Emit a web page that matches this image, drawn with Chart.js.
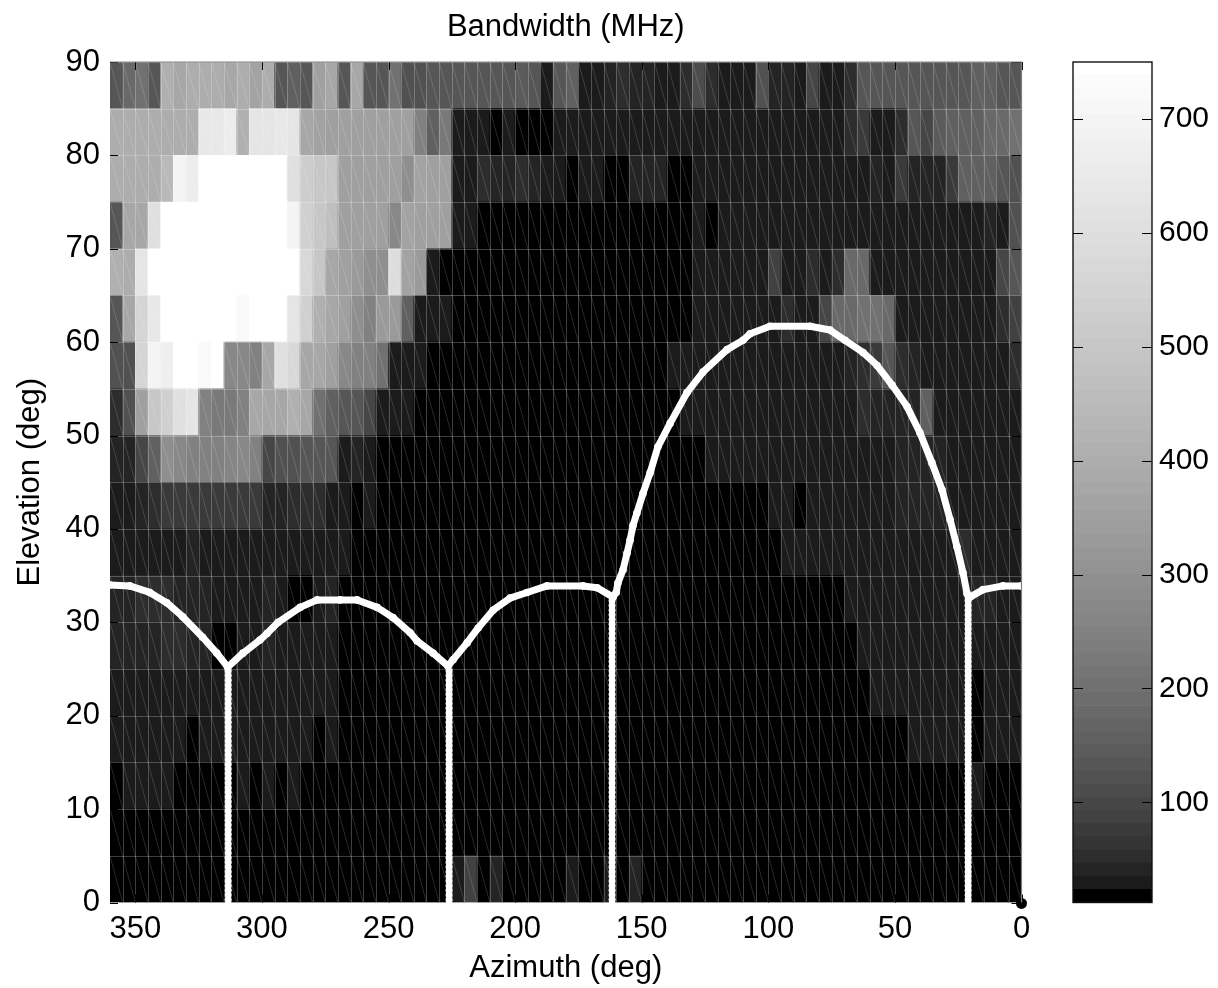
<!DOCTYPE html>
<html><head><meta charset="utf-8">
<style>
html,body{margin:0;padding:0;background:#fff;width:1218px;height:988px;overflow:hidden}
canvas{position:absolute;top:0;display:block}
#main{left:0}#bar{left:1060px}
</style>
<script src="https://cdn.jsdelivr.net/npm/chart.js@4"></script>
</head><body>
<canvas id="main" width="1060" height="988"></canvas>
<canvas id="bar" width="158" height="988"></canvas>
<script>
const titleText='Bandwidth (MHz)', xTitle='Azimuth (deg)', yTitle='Elevation (deg)';
const azimuthTicks=[350,300,250,200,150,100,50,0];
const elevationTicks=[0,10,20,30,40,50,60,70,80,90];
const colorbarTicks=[100,200,300,400,500,600,700];
const colorMin=12, colorMax=750, colorLevels=64;
const azimuthBins=[357.5,352.5,347.5,342.5,337.5,332.5,327.5,322.5,317.5,312.5,307.5,302.5,297.5,292.5,287.5,282.5,277.5,272.5,267.5,262.5,257.5,252.5,247.5,242.5,237.5,232.5,227.5,222.5,217.5,212.5,207.5,202.5,197.5,192.5,187.5,182.5,177.5,172.5,167.5,162.5,157.5,152.5,147.5,142.5,137.5,132.5,127.5,122.5,117.5,112.5,107.5,102.5,97.5,92.5,87.5,82.5,77.5,72.5,67.5,62.5,57.5,52.5,47.5,42.5,37.5,32.5,27.5,22.5,17.5,12.5,7.5,2.5];
const elevationEdges=[0,5,10,15,20,25,30,35,40,45,50,55,60,65,70,75,80,85,90];

const el85=[137,178,200,137,410,380,395,395,395,380,395,366,395,137,157,137,352,380,137,380,137,137,200,118,118,137,137,137,137, 137,137,137,147,137,30,137,157, 33,33,36,48,36,44,33,33,48,110,52,30,30,30, 118,44,44,30,102,30,30,52,137,137,137,137,137,137,137,137,137,157,157,137,137];
const el80=[395,395,395,395,395,395,395, 643,643,661, 410, 625,625,643,625, 380,366,352,352,352,352,352,352,352, 246,157,222,30,30, 30,12,30,12,12,12, 30,30,30,30,30,30,30,30,30,30,30,30,30,30,30,30, 30,30,30,30,30,30,30, 48,71,30,30,48,137,102,147,157,157,157,178,178,200];
const el75=[395,395,395,395,440,698,661, 750,750,750,750,750,750,750, 607,520,504,504, 352,352,352,352,352, 297,366,352,352,30,30, 48,44,44,48,44,33,33,12,33,33,12,12,44,44,44,12,12, 33,33,33,33,33, 30,30,30,30,30,30,30,30,30, 44,30,71,44,44,44,71,157,157,157,137,118];
const el70=[137,380,380,607, 750,750,750,750,750,750,750,750,750,750, 698,537,504,471, 352,352,352,352,271,366,352,352,352,30,33, 12,12,12,12,12,12,12,12,12,12,12,12,12,12,12,12,12, 30,12,30,30,30, 30,30,30,30,30,30,30,30,30,30,30,30,30,30,30,30,30,30, 44,33,118];
const el65=[410,395,625, 750,750,750,750,750,750,750,750,750,750,750,750, 571,504,380,352,324,297,297,589,366,324,30,12,12,12, 12,12,12,12,12,12,12,12,12,12,12,12,12,12,12,12,12, 30,30,30,30,30, 30,86,30,30,58,30,58,178,178, 30,30,30,30,30,30,30,30,30,30, 102,137];
const el60=[137,380,554,643, 750,750,750,750,750,750, 720, 750,750,750, 625,537,410,380,352,297,246,324,324,157,30,30,30,12,12, 12,12,12,12,12,12,12,12,12,12,12,12,12,12,12,12,12, 30,30,30,30,30, 30,30,58,30,30,102,178,178,200,200,178, 30,30,30,30,30,30,30,30, 58,86];
const el55=[118,118,554,698,680,750,750,720,750,271,271,246,380,607,571,380,380,352,271,246,246,200,30,30,30, 12,12,12,12,12,12,12,12,12,12,12,12,12,12,12,12,12,12,12, 30,30,30,30,30,30,30, 30,30,30,30,30,30,30, 44,58,71,137,58,44,30, 30,30,30,30,30,30, 58];
const el50=[58,118,352,504,537,607,625,246,222,222,246,380,380,380,410,380,200,157,137,137,102,30,30,30, 12,12,12,12,12,12,12,12,12,12,12,12,12,12,12,12,12,12,12,12,12, 30,30,30,30,30,30, 30,30,30,30,30,30,30,30, 58,44,44,44,44,157, 30,30,30,30,30,30,30];
const el45=[44,44,102,157,297,271,246,246,246,258,271,246,102,118,118,137,137,137,30,44,30, 12,12,12,12,12,12,12,12,12,12,12,12,12,12,12,12,12,12,12,12,12,12,12,12,12,12, 30,30,30,30, 30,30,30,30,30,30,30,30,30,30,30, 44,44,44,44, 30,30,30,30,30,30];
const el40=[30,30,44,58,71,71,71,71,71,71,71,71,44,44,58,58,58,30,30,12,30, 12,12,12,12,12,12,12,12,12,12,12,12,12,12,12,12,12,12,12,12,12,12,12,12,12,12,12,12,12,12, 12,30,30,12, 30,30,30,30,30,30,30, 44,44,44,44, 30,30,30,30,30,30];
const el35=[30,30,33,30,30,33,44, 30,30,30,30,30,30,30,30,30,30,30, 33, 12,12,12,12,12,12,12,12,12,12,12,12,12,12,12,12,12,12,12,12,12,12,12,12,12,12,12,12,12,12,12,12,12,12, 30,30,30,30,30,30,30,30,30,30,30,30,30,30, 48, 30,30,30,30];
const el30=[44,44,48,58,48,44,44,44,30,30,30,30,44,30,12,12,30,44, 12,12,12,12,12,12,12,12,12,12,12,12,12,12,12,12,12,12,12,12,12,12,12,12,12,12,12,12,12,12,12,12,12,12,12,12,12,12,12,12, 30,30,30,30,30,30,30,30,30,30, 44,44,30,30];
const el25=[44,44,44,44,48,48,44,44,12,12,30,30,44,30,30,30,30,30, 12,12,12,12,12,12,12,12,12,12,12,12,12,12,12,12,12,12,12,12,12,12,12,12,12,12,12,12,12,12,12,12,12,12,12,12,12,12,12,12,12, 30,30,30,30,30,30,30,30,30,30,30,30,30];
const el20=[30,30,30,30,30,30,30,30,30,30,30,30,30,30,30,30,30,30, 12,12,12,12,12,12,12,12,12,12,12,12,12,12,12,12,12,12,12,12,12,12,12,12,12,12,12,12,12,12,12,12,12,12,12,12,12,12,12,12,12,12, 30,30,30,30,30,30,30,30, 12, 30,30,30];
const el15=[30,30,30,30,30,30,12,30,30,30,30,30,30,30,30,30,12,30, 12,12,12,12,12,12,12,12,12,12,12,12,12,12,12,12,12,12,12,12,12,12,12,12,12,12,12,12,12,12,12,12,12,12,12,12,12,12,12,12,12,12,12,12,12, 30,30,30,30,30, 12, 30,30,30];
const el10=[12,33,33,33,33,12,12,12,12,12,30,12,33,12,33, 12,12,12,12,12,12,12,12,12,12,12,12,12,12,12,12,12,12,12,12,12,12,12,12,12,12,12,12,12,12,12,12,12,12,12,12,12,12,12,12,12,12,12,12,12,12,12,12,12,12,12,12,12, 33, 12,12,12];
const el5=[12,12,12,12,12,12,12,12,12,12,12,12,12,12,12,12,12,12,12,12,12,12,12,12,12,12,12,12,12,12,12,12,12,12,12,12,12,12,12,12,12,12,12,12,12,12,12,12,12,12,12,12,12,12,12,12,12,12,12,12,12,12,12,12,12,12,12,12,12,12,12,12];
const el0=[12,12,12,12,12,12,12,12,12,12,12,12,12,12,12,12,12,12,12,12,12,12,12,12,12,12,12, 30,90,12,36, 12,12,12,12,12, 33,12,12,33,12,36, 12,12,12,12,12,12,12,12,12,12,12,12,12,12,12,12,12,12,12,12,12,12,12,12,12,12,12,12,12,12];
const bandwidthRows=[el0,el5,el10,el15,el20,el25,el30,el35,el40,el45,el50,el55,el60,el65,el70,el75,el80,el85];

const horizonAz=[360,352.2,344.3,337.6,331.3,323.4,317.8,313.5,307.5,300.8,298,293.6,284.9,278.2,269.1,262.4,254.5,248.2,241.5,238.7,232.4,226.5,224.5,219,214.6,208.7,202,195.3,187.4,173.2,167.6,161.3,160.1,159.4,157.4,155.8,154.6,153.4,151.9,149.5,146.7,143.6,138.8,132.1,125.8,116.3,110,107.2,99.3,83.5,75.6,69.7,62.6,57,51.1,45.2,40.1,35.4,31.4,28.2,25.5,23.1,21.5,20.3,15.2,7.3,0];
const horizonEl=[34,33.9,33.2,32.1,30.6,28.4,26.7,25.2,26.7,28.1,28.8,30,31.6,32.4,32.4,32.4,31.6,30.5,28.9,28,26.7,25.3,26,27.8,29.4,31.3,32.6,33.2,33.9,33.9,33.7,32.7,33.2,34.2,35.6,37.4,38.8,40.4,41.7,43.8,46,48.8,51.3,54.6,56.8,59.2,60.2,60.9,61.7,61.7,61.3,60.2,58.9,57.5,55.4,53.1,50.3,47.1,44.2,41,38.1,35.3,33.1,32.7,33.5,33.9,33.9];
const verticalAz=[313.3,226.1,161.7,21.1];
const verticalTop=[25,25,32.5,33];
const beadEl=[-0.2,0.3,0.8,1.3,1.8,2.3,2.8,3.3,3.8,4.3,4.8,5.3,5.8,6.3,6.8,7.3,7.8,8.3,8.8,9.3,9.8,10.3,10.8,11.3,11.8,12.3,12.8,13.3,13.8,14.3,14.8,15.3,15.8,16.3,16.8,17.3,17.8,18.3,18.8,19.3,19.8,20.3,20.8,21.3,21.8,22.3,22.8,23.3,23.8,24.3,24.8,25.3,25.8,26.3,26.8,27.3,27.8,28.3,28.8,29.3,29.8,30.3,30.8,31.3,31.8,32.3,32.8];
const originAz=[0], originEl=[-0.1];

const FONT='"Liberation Sans", Arial, sans-serif';
function grey(v){
  const band=Math.min(colorLevels-1,Math.max(0,Math.floor((v-colorMin)/(colorMax-colorMin)*colorLevels)));
  if(band===0)return 'rgb(0,0,0)';
  if(band===colorLevels-1)return 'rgb(255,255,255)';
  const g=Math.round(255*Math.pow((band+0.5)/colorLevels,0.6));
  return `rgb(${g},${g},${g})`;
}

const lineSets=[];
lineSets.push({type:'scatter',data:originAz.map((a,i)=>({x:a,y:originEl[i]})),pointRadius:5.5,pointHoverRadius:5.5,backgroundColor:'#000',borderWidth:0,clip:false,showLine:false});
verticalAz.forEach((a,k)=>{
  lineSets.push({type:'scatter',data:beadEl.filter(e=>e<=verticalTop[k]).map(e=>({x:a,y:e})),pointRadius:3.5,backgroundColor:'#fff',borderWidth:0,clip:false,showLine:false});
});
lineSets.push({type:'scatter',data:horizonAz.map((a,i)=>({x:a,y:horizonEl[i]})),showLine:true,borderColor:'#fff',borderWidth:7,borderJoinStyle:'round',pointRadius:3.8,backgroundColor:'#fff',pointBorderWidth:0,tension:0,clip:false});
const meshIndex=lineSets.length-1;
const cellSets=bandwidthRows.map((row,r)=>({
  type:'bar',
  data:row.map((v,c)=>({x:azimuthBins[c],y:[elevationEdges[r],elevationEdges[r+1]]})),
  backgroundColor:row.map(grey),
  borderWidth:0,grouped:false,barPercentage:1,categoryPercentage:1
}));

const meshPlugin={
  id:'mesh',
  beforeDatasetDraw(chart,args){
    if(args.index!==meshIndex)return;
    const {ctx,chartArea:a,scales:{x,y}}=chart;
    ctx.save();
    ctx.beginPath();ctx.rect(a.left,a.top,a.right-a.left,a.bottom-a.top);ctx.clip();
    ctx.lineWidth=1;
    ctx.strokeStyle='rgba(255,255,255,0.24)';
    ctx.beginPath();
    elevationEdges.forEach(e=>{const p=Math.round(y.getPixelForValue(e))+.5;ctx.moveTo(a.left,p);ctx.lineTo(a.right,p);});
    azimuthBins.forEach(c=>{const p=Math.round(x.getPixelForValue(c-2.5))+.5;ctx.moveTo(p,a.top);ctx.lineTo(p,a.bottom);});
    ctx.stroke();
    ctx.strokeStyle='rgba(255,255,255,0.2)';
    ctx.lineWidth=.8;
    ctx.beginPath();
    for(let r=0;r<elevationEdges.length-1;r++){
      azimuthBins.forEach(c=>{
        ctx.moveTo(x.getPixelForValue(c+2.5),y.getPixelForValue(elevationEdges[r+1]));
        ctx.lineTo(x.getPixelForValue(c-2.5),y.getPixelForValue(elevationEdges[r]));
      });
    }
    ctx.stroke();
    ctx.restore();
  },
  afterDatasetsDraw(chart){
    const {ctx,chartArea:a,scales:{x,y}}=chart;
    ctx.save();
    ctx.strokeStyle='#000';ctx.lineWidth=1;
    ctx.beginPath();
    elevationTicks.forEach(e=>{const p=Math.round(y.getPixelForValue(e))+.5;ctx.moveTo(a.left,p);ctx.lineTo(a.left+8,p);ctx.moveTo(a.right,p);ctx.lineTo(a.right-10,p);});
    azimuthTicks.forEach(c=>{const p=Math.round(x.getPixelForValue(c))+.5;ctx.moveTo(p,a.top);ctx.lineTo(p,a.top+8);ctx.moveTo(p,a.bottom);ctx.lineTo(p,a.bottom-8);});
    ctx.stroke();
    ctx.strokeStyle='#808080';ctx.lineWidth=1.2;
    ctx.beginPath();
    ctx.moveTo(a.left,a.top);ctx.lineTo(a.right,a.top);ctx.lineTo(a.right,a.bottom);
    ctx.stroke();
    ctx.restore();
  }
};

new Chart(document.getElementById('main'),{
  data:{datasets:[...lineSets,...cellSets]},
  plugins:[meshPlugin],
  options:{
    responsive:false,animation:false,devicePixelRatio:1,
    layout:{padding:{left:0,right:38.5,top:0,bottom:0}},
    plugins:{
      legend:{display:false},tooltip:{enabled:false},
      title:{display:true,text:titleText,fullSize:false,color:'#000',font:{family:FONT,size:31,weight:'normal',lineHeight:1.2},padding:{top:9,bottom:15.8}}
    },
    scales:{
      x:{type:'linear',reverse:true,min:0,max:360,offset:false,
        grid:{display:false,drawTicks:false},border:{display:false},
        afterBuildTicks(s){s.ticks=azimuthTicks.map(v=>({value:v}));},
        afterFit(s){s.height=85.5;},
        ticks:{color:'#000',maxRotation:0,autoSkip:false,padding:8,font:{family:FONT,size:31}},
        title:{display:true,text:xTitle,color:'#000',font:{family:FONT,size:31,lineHeight:1.2},padding:{top:0,bottom:1.4}}
      },
      y:{type:'linear',min:0,max:90,
        grid:{display:false,drawTicks:false},border:{display:false},
        afterBuildTicks(s){s.ticks=elevationTicks.map(v=>({value:v}));},
        afterFit(s){s.width=110;},
        ticks:{color:'#000',autoSkip:false,padding:10,font:{family:FONT,size:31}},
        title:{display:true,text:yTitle,color:'#000',font:{family:FONT,size:31,lineHeight:1.2},padding:{top:11.4,bottom:0}}
      }
    }
  }
});

const bandSets=[];
for(let b=0;b<colorLevels;b++){
  const lo=colorMin+(colorMax-colorMin)*b/colorLevels, hi=colorMin+(colorMax-colorMin)*(b+1)/colorLevels;
  bandSets.push({type:'bar',data:[[lo,hi]],backgroundColor:grey((lo+hi)/2),borderWidth:0,grouped:false,barPercentage:1,categoryPercentage:1});
}
const barFrame={
  id:'barFrame',
  afterDatasetsDraw(chart){
    const {ctx,chartArea:a,scales:{y}}=chart;
    ctx.save();
    ctx.strokeStyle='#000';ctx.lineWidth=1;
    ctx.beginPath();
    colorbarTicks.forEach(v=>{const p=Math.round(y.getPixelForValue(v))+.5;ctx.moveTo(a.left,p);ctx.lineTo(a.left+10,p);ctx.moveTo(a.right,p);ctx.lineTo(a.right-10,p);});
    ctx.stroke();
    ctx.lineWidth=1.4;ctx.strokeStyle='#111';
    ctx.strokeRect(a.left,a.top,a.right-a.left,a.bottom-a.top);
    ctx.restore();
  }
};
new Chart(document.getElementById('bar'),{
  data:{labels:[''],datasets:bandSets},
  plugins:[barFrame],
  options:{
    responsive:false,animation:false,devicePixelRatio:1,
    layout:{padding:{left:13,right:0,top:62,bottom:85.5}},
    plugins:{legend:{display:false},tooltip:{enabled:false}},
    scales:{
      x:{type:'category',display:false},
      y:{type:'linear',position:'right',min:colorMin,max:colorMax,
        grid:{display:false,drawTicks:false},border:{display:false},
        afterBuildTicks(s){s.ticks=colorbarTicks.map(v=>({value:v}));},
        afterFit(s){s.width=66;},
        ticks:{color:'#000',autoSkip:false,padding:7,font:{family:FONT,size:30}}
      }
    }
  }
});
</script>
</body></html>
